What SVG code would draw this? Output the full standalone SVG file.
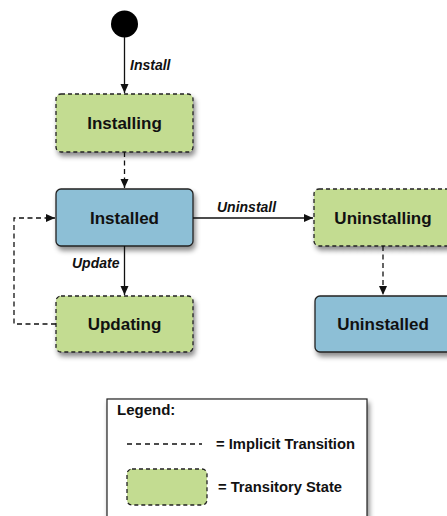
<svg xmlns="http://www.w3.org/2000/svg" width="447" height="516" viewBox="0 0 447 516">
<style>
.state{stroke:#222;stroke-width:1.3}
.trans{fill:#c3dc91;stroke-dasharray:4 3}
.final{fill:#8dbfd6}
.lbl{font-family:"Liberation Sans",Arial,sans-serif;font-weight:bold;font-size:17px;fill:#111;text-anchor:middle}
.edge{font-family:"Liberation Sans",Arial,sans-serif;font-weight:bold;font-style:italic;font-size:14px;fill:#111}
.leg{font-family:"Liberation Sans",Arial,sans-serif;font-weight:bold;font-size:14px;fill:#111}
.line{fill:none;stroke:#111;stroke-width:1.3}
.dash{stroke-dasharray:5 3.5}
</style>
<defs>
<filter id="sh" x="-20%" y="-20%" width="150%" height="160%">
<feDropShadow dx="2" dy="4" stdDeviation="2.5" flood-color="#000" flood-opacity="0.45"/>
</filter>
<marker id="ah" markerWidth="10" markerHeight="10" refX="9" refY="4" orient="auto" markerUnits="userSpaceOnUse">
<path d="M0,0 L9,4 L0,8 z" fill="#111"/>
</marker>
</defs>
<g id="start"><circle cx="124.5" cy="24" r="13.5" fill="#000"/></g>
<g id="installing"><rect class="state trans" x="56" y="94" width="137" height="58" rx="5" filter="url(#sh)"/><text class="lbl" x="124.5" y="129">Installing</text></g>
<g id="installed"><rect class="state final" x="56" y="189" width="137" height="57" rx="5" filter="url(#sh)"/><text class="lbl" x="124.5" y="224">Installed</text></g>
<g id="updating"><rect class="state trans" x="56" y="296" width="137" height="56" rx="5" filter="url(#sh)"/><text class="lbl" x="124.5" y="330">Updating</text></g>
<g id="uninstalling"><rect class="state trans" x="314" y="189" width="138" height="57" rx="5" filter="url(#sh)"/><text class="lbl" x="383" y="224">Uninstalling</text></g>
<g id="uninstalled"><rect class="state final" x="315" y="296" width="137" height="56" rx="5" filter="url(#sh)"/><text class="lbl" x="383" y="330">Uninstalled</text></g>
<g id="connectors">
<line class="line" x1="124.5" y1="37" x2="124.5" y2="93" marker-end="url(#ah)"/>
<text class="edge" x="130" y="70">Install</text>
<line class="line dash" x1="124.5" y1="152" x2="124.5" y2="188" marker-end="url(#ah)"/>
<line class="line" x1="193" y1="218" x2="313" y2="218" marker-end="url(#ah)"/>
<text class="edge" x="217" y="212">Uninstall</text>
<line class="line" x1="124.5" y1="246" x2="124.5" y2="295" marker-end="url(#ah)"/>
<text class="edge" x="72" y="268">Update</text>
<polyline class="line dash" points="56,324 14,324 14,218 55,218" marker-end="url(#ah)"/>
<line class="line dash" x1="383" y1="246" x2="383" y2="295" marker-end="url(#ah)"/>
</g>
<g id="legend">
<rect x="107" y="399" width="260" height="130" fill="#fff" stroke="#222" stroke-width="1.2" filter="url(#sh)"/>
<text class="leg" x="117" y="415" style="font-size:15px">Legend:</text>
<line class="line" x1="127" y1="444" x2="202" y2="444" stroke-dasharray="5 4"/>
<text class="leg" x="216" y="449" textLength="139" lengthAdjust="spacingAndGlyphs">= Implicit Transition</text>
<rect class="state trans" x="127" y="469" width="80" height="36" rx="5"/>
<text class="leg" x="218" y="492" textLength="124" lengthAdjust="spacingAndGlyphs">= Transitory State</text>
</g>
</svg>
